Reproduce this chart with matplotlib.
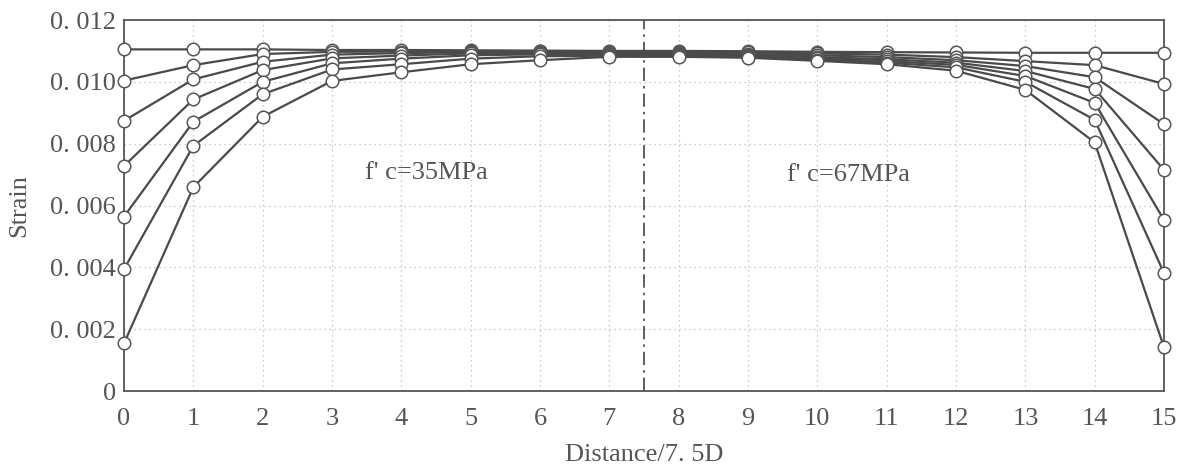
import matplotlib
matplotlib.use("Agg")
import matplotlib.pyplot as plt
from matplotlib.ticker import FixedLocator

distance = list(range(16))
s1 = [0.01105, 0.01105, 0.01105, 0.01103, 0.01103, 0.01102, 0.01101, 0.01100, 0.01100, 0.01099, 0.01097, 0.01096, 0.01095, 0.01094, 0.01094, 0.01094]
s2 = [0.01004, 0.01054, 0.01090, 0.01097, 0.01098, 0.01099, 0.01099, 0.01098, 0.01097, 0.01095, 0.01092, 0.01088, 0.01080, 0.01067, 0.01054, 0.00993]
s3 = [0.00874, 0.01008, 0.01065, 0.01088, 0.01093, 0.01096, 0.01096, 0.01094, 0.01093, 0.01090, 0.01086, 0.01080, 0.01070, 0.01051, 0.01015, 0.00863]
s4 = [0.00728, 0.00943, 0.01038, 0.01076, 0.01085, 0.01092, 0.01093, 0.01091, 0.01090, 0.01086, 0.01080, 0.01073, 0.01062, 0.01035, 0.00977, 0.00715]
s5 = [0.00564, 0.00871, 0.01000, 0.01060, 0.01075, 0.01086, 0.01089, 0.01088, 0.01087, 0.01082, 0.01076, 0.01067, 0.01055, 0.01019, 0.00932, 0.00553]
s6 = [0.00394, 0.00793, 0.00960, 0.01040, 0.01057, 0.01075, 0.01083, 0.01084, 0.01083, 0.01080, 0.01072, 0.01062, 0.01047, 0.01000, 0.00877, 0.00381]
s7 = [0.00154, 0.00659, 0.00887, 0.01003, 0.01031, 0.01057, 0.01070, 0.01081, 0.01081, 0.01078, 0.01068, 0.01057, 0.01036, 0.00974, 0.00804, 0.00141]
series = [s1, s2, s3, s4, s5, s6, s7]

y_ticks = [0, 0.002, 0.004, 0.006, 0.008, 0.010, 0.012]
y_tick_labels = ["0", "0. 002", "0. 004", "0. 006", "0. 008", "0. 010", "0. 012"]
x_tick_labels = [str(v) for v in distance]
divider_x = 7.5
label_left = "f' c=35MPa"
label_right = "f' c=67MPa"

FONT = "Liberation Serif"
FS = 19
TXT = "#555555"
LINE = "#4a4a4a"

fig = plt.figure(figsize=(11.82, 4.72), dpi=100)
ax = fig.add_axes([0.1049, 0.1716, 0.8799, 0.786])

for s in series:
    ax.plot(distance, s, color=LINE, lw=1.6, marker="o", ms=9,
            markerfacecolor="white", markeredgecolor="#555555",
            markeredgewidth=1.1, zorder=3, clip_on=False)

ax.axvline(divider_x, color="#444444", lw=1.2, ls=(0, (8, 3, 1.5, 3)), zorder=2)

ax.set_xlim(0, 15)
ax.set_ylim(0, 0.012)
ax.xaxis.set_major_locator(FixedLocator(distance))
ax.yaxis.set_major_locator(FixedLocator(y_ticks))
ax.set_xticklabels(x_tick_labels, fontsize=FS, family=FONT, color=TXT)
ax.set_yticklabels(y_tick_labels, fontsize=FS, family=FONT, color=TXT)
ax.tick_params(length=0, pad=6)
ax.tick_params(axis="x", pad=12)

ax.grid(True, color="#bbbbbb", ls=(0, (1, 3)), lw=0.9)
for sp in ax.spines.values():
    sp.set_color("#555555")
    sp.set_linewidth(1.3)

ax.set_xlabel("Distance/7. 5D", fontsize=FS, family=FONT, color=TXT, labelpad=10)
ax.set_ylabel("Strain", fontsize=FS, family=FONT, color=TXT, labelpad=14)

ax.text(4.36, 0.00705, label_left, fontsize=FS, family=FONT, color=TXT,
        ha="center", va="center")
ax.text(10.45, 0.00700, label_right, fontsize=FS, family=FONT, color=TXT,
        ha="center", va="center")

fig.savefig("out.png", dpi=100)
